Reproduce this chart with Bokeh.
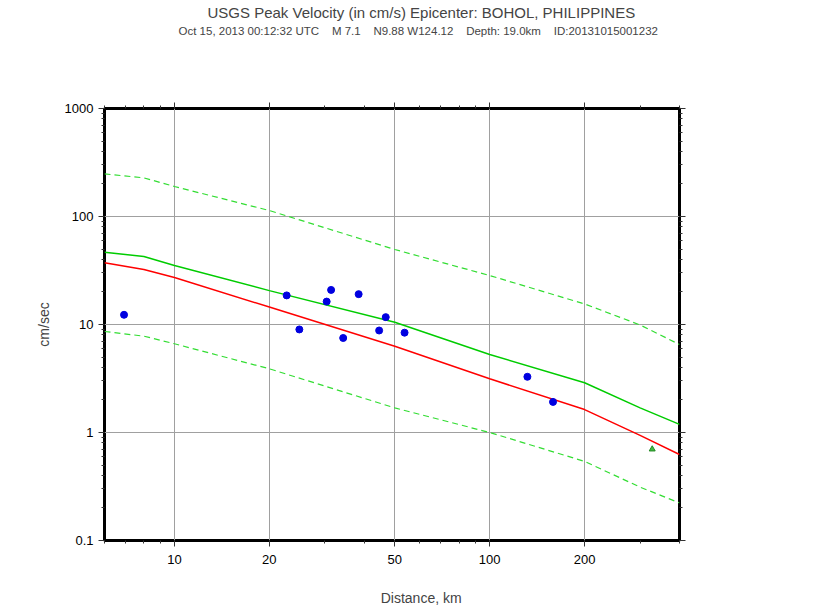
from bokeh.plotting import figure
from bokeh.models import FixedTicker, LogAxis, CustomJSTickFormatter, Title, Range1d
from bokeh.embed import file_html
from bokeh.resources import INLINE

# ---- data ----
dist_curve = [6, 8, 10, 20, 50, 100, 200, 300, 400]
median_red = [37.3, 32.3, 27.2, 14.5, 6.3, 3.14, 1.63, 0.94, 0.625]
median_green = [46.7, 42.6, 35.2, 20.6, 10.5, 5.27, 2.89, 1.69, 1.19]
upper_dashed = [248, 228, 189.6, 113.6, 49.5, 28.4, 15.5, 9.9, 6.53]
lower_dashed = [8.61, 7.8, 6.63, 3.89, 1.69, 1.0, 0.54, 0.312, 0.223]

station_dist = [6.92, 22.7, 24.9, 30.4, 31.4, 34.3, 38.4, 44.6, 46.8, 53.7, 131.7, 158.8]
station_pgv = [12.3, 18.6, 9.0, 16.3, 20.9, 7.5, 19.1, 8.8, 11.7, 8.4, 3.28, 1.92]

tri_dist = [327.7]
tri_pgv = [0.70]

x_major = [10, 20, 50, 100, 200]
x_minor = [6, 7, 8, 9, 30, 40, 60, 70, 80, 90, 300, 400]
y_major = [0.1, 1, 10, 100, 1000]
y_minor = [m * d for d in [0.1, 1, 10, 100] for m in range(2, 10)]

GAP = "\u00a0\u00a0\u00a0 "
title_text = "USGS Peak Velocity (in cm/s) Epicenter: BOHOL, PHILIPPINES"
sub_text = ("Oct 15, 2013 00:12:32 UTC" + GAP + "M 7.1" + GAP + "N9.88 W124.12"
            + GAP + "Depth: 19.0km" + GAP + "ID:20131015001232")
x_label = "\u00a0" * 15 + "Distance, km"
FONT = "Liberation Sans"

p = figure(width=840, height=612, x_axis_type="log", y_axis_type="log",
           x_range=Range1d(6, 400), y_range=Range1d(0.1, 1000),
           output_backend="svg", toolbar_location=None, title=None,
           min_border_left=104, min_border_right=161, min_border_top=108, min_border_bottom=72)
p.background_fill_color = "white"
p.border_fill_color = "white"
p.outline_line_color = "black"
p.outline_line_width = 3

fmt = CustomJSTickFormatter(code="return String(tick)")

def style_axis(ax, ticks, minor, labels=True):
    ax.ticker = FixedTicker(ticks=ticks, minor_ticks=minor)
    ax.formatter = fmt
    ax.axis_line_color = None
    ax.major_tick_in = 0
    ax.major_tick_out = 6
    ax.minor_tick_in = 0
    ax.minor_tick_out = 3
    ax.major_tick_line_color = "#333333"
    ax.minor_tick_line_color = "#333333"
    ax.major_label_text_font = FONT
    ax.major_label_text_font_size = "13px" if labels else "0px"
    ax.major_label_text_color = "black" if labels else None
    ax.major_label_standoff = 5 if labels else 0

style_axis(p.xaxis[0], x_major, x_minor)
style_axis(p.yaxis[0], y_major, y_minor)
p.xaxis[0].major_label_standoff = 8

p.xaxis[0].axis_label = x_label
p.xaxis[0].axis_label_text_font = FONT
p.xaxis[0].axis_label_text_font_size = "14px"
p.xaxis[0].axis_label_text_font_style = "normal"
p.xaxis[0].axis_label_standoff = 23

p.yaxis[0].axis_label = "cm/sec"
p.yaxis[0].axis_label_text_font = FONT
p.yaxis[0].axis_label_text_font_size = "14px"
p.yaxis[0].axis_label_text_font_style = "normal"
p.yaxis[0].axis_label_standoff = 10

top = LogAxis()
style_axis(top, x_major, x_minor, labels=False)
# blank spacer label that reserves the gap between the titles and the frame
top.axis_label = "\u00a0"
top.axis_label_text_font_size = "10px"
top.axis_label_standoff = 50
p.add_layout(top, "above")
right = LogAxis()
style_axis(right, y_major, y_minor, labels=False)
p.add_layout(right, "right")

p.xgrid.ticker = FixedTicker(ticks=x_major)
p.ygrid.ticker = FixedTicker(ticks=y_major)
for g in (p.xgrid[0], p.ygrid[0]):
    g.grid_line_color = "#a0a0a0"
    g.grid_line_width = 1
    g.minor_grid_line_color = None

p.line(dist_curve, upper_dashed, line_color="#33dd33", line_width=1.2, line_dash="6 4")
p.line(dist_curve, lower_dashed, line_color="#33dd33", line_width=1.2, line_dash="6 4")
p.line(dist_curve, median_green, line_color="#00cc00", line_width=1.5)
p.line(dist_curve, median_red, line_color="#ff0000", line_width=1.5)

p.scatter(station_dist, station_pgv, marker="circle", size=7, fill_color="#0000e0", line_color="#0000e0")
p.scatter(tri_dist, tri_pgv, marker="triangle", size=6, fill_color="#44bb44", line_color="#228822")

# titles (inner first, outer last)
p.add_layout(Title(text=sub_text, align="left", offset=74, text_font=FONT,
                   text_font_size="11.5px", text_font_style="normal", standoff=4), "above")
p.add_layout(Title(text=title_text, align="left", offset=103, text_font=FONT,
                   text_font_size="15px", text_font_style="normal", standoff=0), "above")

open("out.html", "w").write(file_html(p, INLINE))
